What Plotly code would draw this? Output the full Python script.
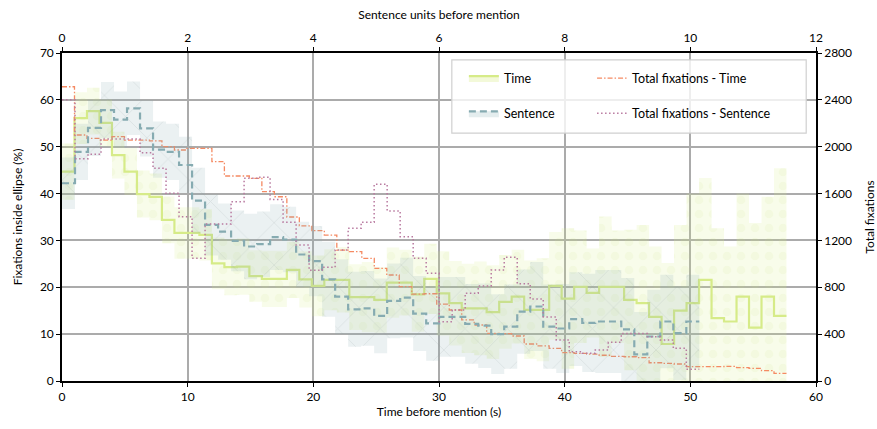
import plotly.graph_objects as go

# ---------------- data ----------------
TIME_BIN = 0.994     # seconds per time bin
SENT_BIN = 0.207     # sentence units per sentence bin

time_pct = [44.7, 56.1, 57.6, 55.1, 48.2, 44.7, 39.9, 39.3, 34.4, 31.6,
            31.6, 31.2, 25.1, 24.3, 24.4, 22.4, 21.8, 21.8, 23.7, 21.7,
            20.3, 21.6, 21.6, 17.9, 17.9, 17.3, 21.0, 21.0, 18.5, 21.8,
            18.7, 16.6, 15.5, 15.5, 14.7, 16.9, 18.0, 15.2, 15.2, 20.3,
            17.6, 20.1, 18.8, 20.1, 20.1, 17.3, 16.6, 13.7, 7.9, 15.0,
            16.6, 21.6, 13.4, 12.7, 18.0, 11.4, 18.0, 13.9]
time_err = [6, 5.5, 5, 5, 5, 5, 5, 5, 5, 5.5,
            5.5, 5.5, 5.5, 6, 6, 5.5, 6, 6, 6, 6,
            6.5, 6.5, 7, 7, 7.5, 7, 7.5, 7, 8, 7.5,
            9, 9, 9.5, 10, 10, 10, 10, 10.5, 11, 11.5,
            15, 12, 9.5, 15, 12, 15, 16.7, 15, 17.3, 18.3,
            23.4, 21.7, 19.2, 16, 22, 22.3, 21.3, 31.5]
sent_pct = [42.2, 48.9, 54.0, 57.8, 55.8, 58.2, 53.9, 49.4, 48.9, 46.1,
            38.5, 33.3, 31.9, 29.9, 28.7, 29.2, 30.7, 30.2, 27.0, 25.6,
            21.7, 18.0, 15.3, 15.5, 13.9, 17.1, 17.8, 14.4, 12.3, 13.7,
            13.7, 12.2, 11.8, 10.0, 11.6, 14.8, 15.9, 11.6, 11.2, 13.2,
            12.4, 12.7, 12.7, 11.0, 5.7, 9.5, 12.7, 10.2, 12.7]
sent_err = [5.5, 6, 6, 6, 6, 5.7, 6, 6, 6, 6,
            7, 6.5, 6, 6.5, 7, 7, 7, 7, 7, 7.5,
            8, 8, 8, 8, 8, 8, 8.5, 8, 8, 8.5,
            8.5, 8.5, 9, 8.5, 9, 9, 9.5, 9, 9.5, 10,
            10.5, 11, 11, 11, 9, 10, 10, 10, 10]
total_time = [2512, 2100, 2072, 2057, 2086, 2057, 2057, 2050, 2000, 1972,
              1986, 1986, 1872, 1750, 1750, 1730, 1616, 1573, 1400, 1325,
              1283, 1246, 1118, 1104, 1047, 962, 905, 805, 742, 745,
              657, 606, 521, 478, 407, 405, 384, 316, 299, 279,
              242, 236, 230, 220, 210, 207, 200, 156, 150, 145,
              122, 122, 122, 125, 115, 108, 88, 65]
total_sent = [2400, 1897, 1936, 2065, 2065, 2065, 1949, 1816, 1602, 1403,
              1047, 1340, 1340, 1531, 1730, 1739, 1550, 1355, 1160, 945,
              970, 1118, 1303, 1355, 1680, 1452, 1232, 1047, 919, 506,
              606, 750, 811, 948, 1056, 830, 700, 547, 350, 250,
              236, 265, 330, 405, 405, 378, 350, 279, 100]

x_ticks = [0, 10, 20, 30, 40, 50, 60]
x2_ticks = [0, 2, 4, 6, 8, 10, 12]
y_ticks = [0, 10, 20, 30, 40, 50, 60, 70]
y2_ticks = [0, 400, 800, 1200, 1600, 2000, 2400, 2800]

# ---------------- helpers ----------------
def edges(n, w):
    return [i * w for i in range(n + 1)]

def step(v):
    return list(v) + [v[-1]]

t_x = edges(len(time_pct), TIME_BIN)
s_x = edges(len(sent_pct), SENT_BIN)
t_up = [m + e for m, e in zip(time_pct, time_err)]
t_lo = [m - e for m, e in zip(time_pct, time_err)]
s_up = [m + e for m, e in zip(sent_pct, sent_err)]
s_lo = [m - e for m, e in zip(sent_pct, sent_err)]

TIME_LINE = "#d6eb88"
TIME_BAND = "rgba(214,234,130,0.17)"
TIME_PAT = "rgba(214,234,130,0.2)"
SENT_LINE = "#86abb1"
SENT_BAND = "rgba(134,171,177,0.16)"
SENT_PAT = "rgba(140,150,155,0.35)"
TOT_T = "#f58a63"
TOT_S = "#b97aa0"

FONT = "Lato"
fig = go.Figure()

# bands
fig.add_trace(go.Scatter(x=t_x, y=step(t_lo), mode="lines", line=dict(width=0, shape="hv"),
                         showlegend=False, hoverinfo="skip"))
fig.add_trace(go.Scatter(x=t_x, y=step(t_up), mode="lines", line=dict(width=0, shape="hv"),
                         fill="tonexty", fillcolor=TIME_BAND,
                         fillpattern=dict(shape=".", fgcolor=TIME_PAT, bgcolor=TIME_BAND,
                                          size=14, solidity=0.3),
                         showlegend=False, hoverinfo="skip"))
fig.add_trace(go.Scatter(x=t_x, y=step(time_pct), mode="lines", name="Time",
                         line=dict(color=TIME_LINE, width=2.2, shape="hv"),
                         showlegend=False))

fig.add_trace(go.Scatter(x=s_x, y=step(s_lo), xaxis="x2", mode="lines",
                         line=dict(width=0, shape="hv"), showlegend=False, hoverinfo="skip"))
fig.add_trace(go.Scatter(x=s_x, y=step(s_up), xaxis="x2", mode="lines",
                         line=dict(width=0, shape="hv"), fill="tonexty", fillcolor=SENT_BAND,
                         fillpattern=dict(shape="x", fgcolor=SENT_PAT, bgcolor=SENT_BAND,
                                          size=30, solidity=0.06),
                         showlegend=False, hoverinfo="skip"))
fig.add_trace(go.Scatter(x=s_x, y=step(sent_pct), xaxis="x2", mode="lines", name="Sentence",
                         line=dict(color=SENT_LINE, width=2.2, dash="7px,4px", shape="hv"),
                         showlegend=False))

fig.add_trace(go.Scatter(x=t_x, y=step(total_time), yaxis="y2", mode="lines",
                         name="Total fixations - Time",
                         line=dict(color=TOT_T, width=1.3, dash="5px,2px,1.5px,2px", shape="hv"),
                         showlegend=False))
fig.add_trace(go.Scatter(x=s_x, y=step(total_sent), xaxis="x2", yaxis="y2", mode="lines",
                         name="Total fixations - Sentence",
                         line=dict(color=TOT_S, width=1.5, dash="1.5px,2.5px", shape="hv"),
                         showlegend=False))

# legend-only entries
fig.add_trace(go.Scatter(x=[None], y=[None], mode="lines", name="Time", legend="legend",
                         legendgroup="a", fill="toself", fillcolor="rgba(214,234,130,0.3)",
                         line=dict(color=TIME_LINE, width=2.2)))
fig.add_trace(go.Scatter(x=[None], y=[None], mode="lines", name="Sentence", legend="legend",
                         legendgroup="b", fill="toself", fillcolor="rgba(134,171,177,0.22)",
                         line=dict(color=SENT_LINE, width=2.2, dash="7px,4px")))
fig.add_trace(go.Scatter(x=[None], y=[None], mode="lines", name="Total fixations - Time",
                         legend="legend2", legendgroup="c",
                         line=dict(color=TOT_T, width=1.3, dash="5px,2px,1.5px,2px")))
fig.add_trace(go.Scatter(x=[None], y=[None], mode="lines", name="Total fixations - Sentence",
                         legend="legend2", legendgroup="d",
                         line=dict(color=TOT_S, width=1.5, dash="1.5px,2.5px")))

axis_common = dict(showline=True, linecolor="black", linewidth=1.6, ticks="outside",
                   ticklen=4, tickwidth=1.2, tickcolor="black", zeroline=False,
                   automargin=False,
                   tickfont=dict(family=FONT, size=12, color="black"),
                   title_font=dict(family=FONT, size=12, color="black"))

fig.update_layout(
    width=877, height=429,
    margin=dict(l=62, r=61, t=53, b=48),
    paper_bgcolor="white", plot_bgcolor="white",
    font=dict(family=FONT, size=12, color="black"),
    xaxis=dict(range=[0, 60], tickvals=x_ticks, showgrid=True, gridcolor="#ababab",
               gridwidth=1.5, title=dict(text="Time before mention (s)", standoff=4),
               **axis_common),
    xaxis2=dict(range=[0, 12], tickvals=x2_ticks, overlaying="x", side="top", anchor="y",
                showgrid=False, title=dict(text="Sentence units before mention", standoff=8),
                **axis_common),
    yaxis=dict(range=[0, 70], tickvals=y_ticks, showgrid=True, gridcolor="#ababab",
               gridwidth=1.5, title=dict(text="Fixations inside ellipse (%)", standoff=15),
               **axis_common),
    yaxis2=dict(range=[0, 2800], tickvals=y2_ticks, overlaying="y", side="right", anchor="x",
                showgrid=False, title=dict(text="Total fixations", standoff=16),
                **axis_common),
    legend=dict(x=0.533, y=0.968, xanchor="left", yanchor="top", bgcolor="rgba(0,0,0,0)",
                tracegroupgap=16, font=dict(family=FONT, size=12.5)),
    legend2=dict(x=0.703, y=0.968, xanchor="left", yanchor="top", bgcolor="rgba(0,0,0,0)",
                 tracegroupgap=16, font=dict(family=FONT, size=12.5)),
    shapes=[dict(type="rect", xref="paper", yref="paper", x0=0.517, x1=0.987,
                 y0=0.756, y1=0.979, line=dict(color="#d0d0d0", width=1.2),
                 fillcolor="rgba(255,255,255,0.8)", layer="above")],
)

fig.write_html("out.html", config={"displayModeBar": False},
               post_script="document.body.style.margin='0px';document.body.style.padding='0px';")
